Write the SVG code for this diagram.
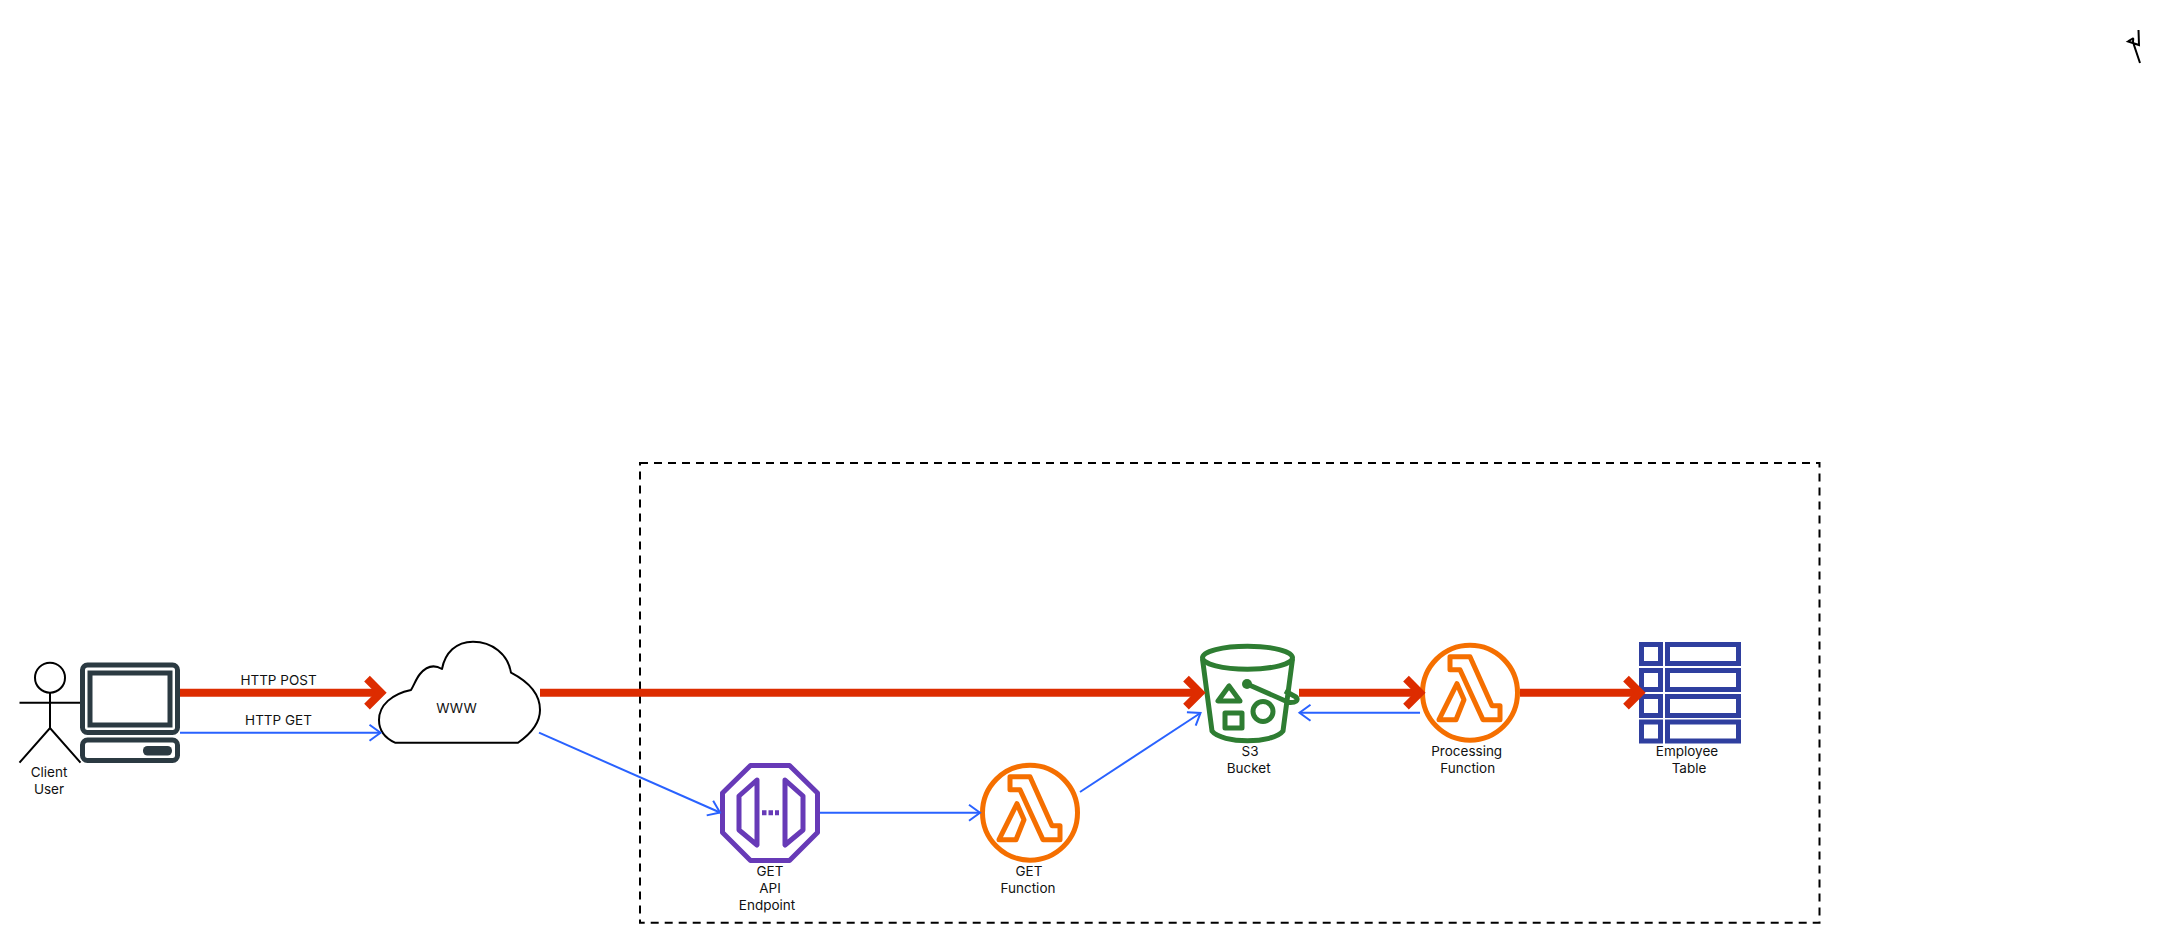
<svg xmlns="http://www.w3.org/2000/svg" width="2166" height="943" viewBox="0 0 2166 943">
<style>
text{font-family:Inter,"Liberation Sans",sans-serif;font-size:13.5px;fill:#111;text-anchor:middle}
.actor,.cloud{fill:none;stroke:#000;stroke-width:2}
.cloud{fill:#fff;stroke-linejoin:round}
.comp{fill:none;stroke:#2b3a42;stroke-width:5}
.api{fill:none;stroke:#673ab7;stroke-width:5;stroke-linejoin:round}
.lam{fill:none;stroke:#f56f00;stroke-width:5;stroke-linejoin:round}
.s3{fill:none;stroke:#2e7d32;stroke-width:5;stroke-linejoin:round}
.tbl{fill:none;stroke:#2f3f9f;stroke-width:5}
.post{fill:none;stroke:#dd2c00;stroke-width:8;marker-end:url(#r)}
.get{fill:none;stroke:#2962ff;stroke-width:2;marker-end:url(#b)}
</style>
<defs>
<marker id="r" markerUnits="userSpaceOnUse" viewBox="-24 -20 36 40" refX="0" refY="0" markerWidth="36" markerHeight="40" orient="auto"><path d="M-14,-14L0,0L-14,14" fill="none" stroke="#dd2c00" stroke-width="8"/></marker>
<marker id="b" markerUnits="userSpaceOnUse" viewBox="-16 -12 20 24" refX="0" refY="0" markerWidth="20" markerHeight="24" orient="auto"><path d="M-11,-8L0,0L-11,8" fill="none" stroke="#2962ff" stroke-width="2"/></marker>
<g id="lambda"><circle r="47.5" class="lam"/><path class="lam" d="M-20,-36H0L22,13H30V27H13L-10,-23H-20ZM-13,-9L-6,7L-14,27H-31Z"/></g>
</defs>
<rect id="boundary" x="640" y="463" width="1179.500" height="459.700" fill="none" stroke="#000" stroke-width="2" stroke-dasharray="8 6"/>
<g id="client-user"><circle class="actor" cx="50" cy="677.700" r="15"/><path class="actor" d="M50,692.700V728M19.500,702.700H80M19.500,762.700L50,728L80.500,762.700"/><text x="49" y="777">Client</text><text x="49" y="793.500">User</text></g>
<g id="computer"><rect class="comp" x="82.500" y="665" width="95" height="67.500" rx="5"/><rect class="comp" x="90" y="673" width="80" height="52"/><rect class="comp" x="82.500" y="740" width="95" height="20.500" rx="5"/><rect x="143" y="746" width="29" height="9.500" rx="4.500" fill="#2b3a42"/></g>
<g id="www"><path class="cloud" d="M395,742.700H518C532,733 540,723 540,710C540,693 527,681 511,672.700C508,654 492,641.700 473,641.700C456,641.700 445,653 442,669C432,663 425,668 420,674C416,679 414,685 411,690C392,694 379,705 379,720C379,730 385,738 395,742.700Z"/><text x="456.500" y="713">WWW</text></g>
<g id="api-endpoint"><path class="api" d="M750.500,765.500H789.500L817.500,793V832.500L789.500,860.500H750.500L722.500,832.500V793Z"/><path class="api" d="M757,780L739,796V830L757,845ZM785,780L803,796V830L785,845Z"/><path d="M762,812.700H779" fill="none" stroke="#673ab7" stroke-width="5" stroke-dasharray="4.500 2"/><text x="770" y="876">GET</text><text x="770" y="893">API</text><text x="767" y="910">Endpoint</text></g>
<g id="get-function"><use href="#lambda" x="1030" y="812.700"/><text x="1029" y="876">GET</text><text x="1028" y="893">Function</text></g>
<g id="s3-bucket"><ellipse class="s3" cx="1247.500" cy="657.700" rx="45" ry="11.500"/><path class="s3" d="M1202.500,659L1212,731C1222,744 1273,744 1283,731L1292.500,659"/><path class="s3" d="M1229,686L1218,701H1240ZM1225,713H1242V728H1225Z"/><circle class="s3" cx="1263" cy="711.500" r="10"/><path class="s3" d="M1247,684L1289,702.500C1296,703 1299,700 1296,697L1285,691"/><circle cx="1247" cy="684" r="5" fill="#2e7d32"/><text x="1250" y="756">S3</text><text x="1248.700" y="773">Bucket</text></g>
<g id="processing-function"><use href="#lambda" x="1470" y="692.700"/><text x="1466.700" y="756">Processing</text><text x="1467.700" y="773">Function</text></g>
<g id="employee-table"><rect class="tbl" x="1641.500" y="644.500" width="19" height="19"/><rect class="tbl" x="1667.500" y="644.500" width="71" height="19"/><rect class="tbl" x="1641.500" y="670.500" width="19" height="19"/><rect class="tbl" x="1667.500" y="670.500" width="71" height="19"/><rect class="tbl" x="1641.500" y="696.500" width="19" height="19"/><rect class="tbl" x="1667.500" y="696.500" width="71" height="19"/><rect class="tbl" x="1641.500" y="722" width="19" height="19"/><rect class="tbl" x="1667.500" y="722" width="71" height="19"/><text x="1687" y="756">Employee</text><text x="1689" y="773">Table</text></g>
<g id="connectors">
<path class="post" d="M180,692.700H381"/><path class="post" d="M540,692.700H1200"/><path class="post" d="M1299,692.700H1420"/><path class="post" d="M1520,692.700H1640"/>
<path class="get" d="M180,732.700H380.500"/><path class="get" d="M539,732.700L720,812.500"/><path class="get" d="M820,812.700H980"/><path class="get" d="M1080,792L1200.500,713"/><path class="get" d="M1420,712.700H1299.500"/>
<text x="278.500" y="685">HTTP POST</text><text x="278.500" y="725">HTTP GET</text>
</g>
<path id="scribble" d="M2140,63L2133,42C2133,38 2135,37 2128,41.500L2139,45L2138.500,30" fill="none" stroke="#000" stroke-width="2"/>
</svg>
